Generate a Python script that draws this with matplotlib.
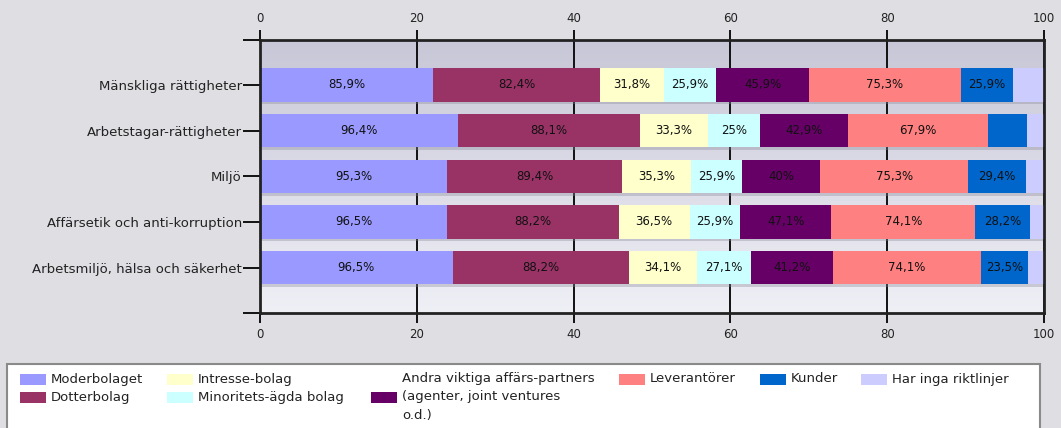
import numpy as np
import matplotlib
matplotlib.use("Agg")
import matplotlib.pyplot as plt
import matplotlib.patheffects as pe
from matplotlib.patches import Rectangle

categories = [
    "Mänskliga rättigheter",
    "Arbetstagar-rättigheter",
    "Miljö",
    "Affärsetik och anti-korruption",
    "Arbetsmiljö, hälsa och säkerhet",
]
series = [
    "Moderbolaget",
    "Dotterbolag",
    "Intresse-bolag",
    "Minoritets-ägda bolag",
    "Andra viktiga affärs-partners\n(agenter, joint ventures\no.d.)",
    "Leverantörer",
    "Kunder",
    "Har inga riktlinjer",
]
colors = ["#9999ff", "#993366", "#ffffcc", "#ccffff", "#660066", "#ff8080", "#0066cc", "#ccccff"]

# andel (%) per kategori, en lista per serie
moderbolaget = [85.9, 96.4, 95.3, 96.5, 96.5]
dotterbolag = [82.4, 88.1, 89.4, 88.2, 88.2]
intresse = [31.8, 33.3, 35.3, 36.5, 34.1]
minoritet = [25.9, 25.0, 25.9, 25.9, 27.1]
andra = [45.9, 42.9, 40.0, 47.1, 41.2]
leverantorer = [75.3, 67.9, 75.3, 74.1, 74.1]
kunder = [25.9, 19.0, 29.4, 28.2, 23.5]
inga = [15.3, 8.3, 9.4, 7.1, 8.2]
show_label = [True, True, True, True, True, True, True, False]

values = np.array([moderbolaget, dotterbolag, intresse, minoritet, andra, leverantorer, kunder, inga])
shares = values / values.sum(axis=0) * 100

bg = "#dfdee3"
fig = plt.figure(figsize=(10.61, 4.28), dpi=100, facecolor=bg)
ax = fig.add_axes([260 / 1061, 1 - 313 / 428, 784 / 1061, 273 / 428])

y = np.arange(len(categories))
ax.set_ylim(4.99, -0.98)
ax.set_xlim(0, 100)

# bakgrundsgradient i ritytan
grad = np.linspace(0, 1, 256).reshape(-1, 1)
cmap = matplotlib.colors.LinearSegmentedColormap.from_list("g", ["#c8c7d7", "#efeff6"])
ax.imshow(grad, aspect="auto", cmap=cmap, extent=[0, 100, 4.99, -0.98], zorder=0)

left = np.zeros(len(categories))
for i in range(len(series)):
    bars = ax.barh(y, shares[i], left=left, height=0.73, color=colors[i], zorder=3,
                   path_effects=[pe.SimplePatchShadow(offset=(1.5, -2), shadow_rgbFace="#888899", alpha=0.35), pe.Normal()])
    if show_label[i]:
        for j in range(len(categories)):
            if shares[i][j] < 5.2:
                continue
            txt = f"{values[i][j]:.1f}".rstrip("0").rstrip(".").replace(".", ",") + "%"
            ax.text(left[j] + shares[i][j] / 2, y[j], txt, ha="center", va="center",
                    fontsize=8.5, color="#111111", zorder=5)
    left += shares[i]

ax.set_xticks([0, 20, 40, 60, 80, 100])
ax.grid(axis="x", color="#111111", linewidth=1.4, zorder=1)
ax.tick_params(axis="x", top=True, labeltop=True, bottom=True, labelbottom=True,
               length=7, width=1.4, color="#111111", labelsize=8.5, labelcolor="#222222", pad=4)
ax.set_yticks(y)
ax.set_yticklabels(categories)
ax.set_yticks([-0.98, 4.99], minor=True)
ax.tick_params(axis="y", which="both", length=12, width=1.4, color="#111111", labelsize=9.5,
               labelcolor="#222222", pad=1)
for s in ax.spines.values():
    s.set_linewidth(2)
    s.set_color("#222222")
    s.set_zorder(6)

# förklaring
fig.patches.append(Rectangle((7 / 1061, -0.05), 1033 / 1061, (428 - 364) / 428 + 0.05,
                             transform=fig.transFigure, facecolor="white", edgecolor="#8a8a8a",
                             linewidth=1.5))
pos = [(20, 379), (20, 397), (167, 379), (167, 397), (371, 397), (619, 379), (760, 379), (861, 379)]
for i, (px, py) in enumerate(pos):
    fig.patches.append(Rectangle((px / 1061, 1 - (py + 5.5) / 428), 26 / 1061, 11 / 428,
                                 transform=fig.transFigure, facecolor=colors[i], edgecolor="none"))
    if i == 4:
        fig.text((px + 31) / 1061, 1 - 372 / 428, series[i], fontsize=9.5, color="#222222",
                 va="top", ha="left", linespacing=1.53)
    else:
        fig.text((px + 31) / 1061, 1 - py / 428, series[i], fontsize=9.5, color="#222222",
                 va="center", ha="left")

fig.savefig("out.png", dpi=100, facecolor=bg)
